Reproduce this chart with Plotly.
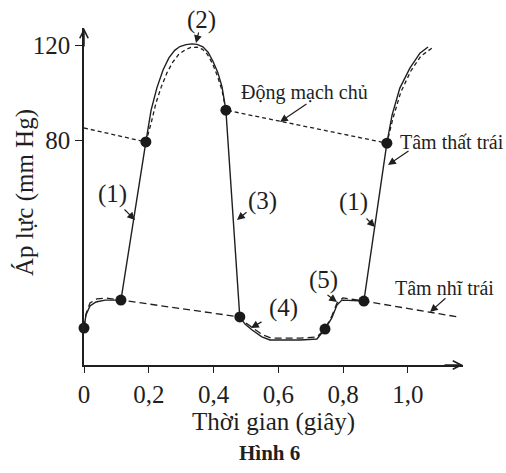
import plotly.graph_objects as go

# ---- data (time in s, pressure in mm Hg) ----
t_lv = [0.0, 0.006, 0.0185, 0.037, 0.065, 0.114, 0.191, 0.207, 0.225, 0.244, 0.262, 0.280, 0.296,
        0.315, 0.333, 0.349, 0.367, 0.383, 0.398, 0.413, 0.426, 0.438, 0.481, 0.497, 0.519, 0.549,
        0.574, 0.667, 0.719, 0.744, 0.765, 0.781, 0.796, 0.864, 0.935, 0.951, 0.975, 1.006, 1.037, 1.062]
p_lv = [0.8, 6.3, 10.1, 11.8, 12.6, 12.6, 79.2, 92.5, 102.0, 109.5, 114.6, 117.8, 119.4,
        120.2, 120.5, 120.3, 119.3, 117.0, 113.2, 108.5, 102.5, 92.6, 5.5, 2.5, 0.0, -2.9,
        -4.2, -4.2, -3.8, 0.4, 5.1, 10.5, 12.6, 12.2, 78.7, 90.5, 101.9, 110.3, 116.6, 119.2]

t_ao = [0.0, 0.191, 0.207, 0.222, 0.238, 0.256, 0.274, 0.292, 0.312, 0.330, 0.349, 0.366, 0.381,
        0.396, 0.411, 0.426, 0.438, 0.935, 0.954, 0.978, 1.009, 1.040, 1.074]
p_ao = [85.1, 79.2, 87.0, 95.5, 102.2, 108.3, 112.8, 116.0, 118.0, 119.0, 119.1, 118.2, 116.1,
        112.4, 107.3, 101.0, 92.6, 78.7, 89.3, 100.2, 109.1, 115.4, 118.7]

t_la = [0.0, 0.006, 0.0185, 0.040, 0.068, 0.114, 0.481, 0.500, 0.522, 0.552, 0.577, 0.667,
        0.719, 0.744, 0.765, 0.781, 0.799, 0.864, 1.154]
p_la = [0.8, 6.7, 11.4, 13.1, 13.5, 12.6, 5.5, 2.9, 0.8, -2.1, -3.4, -3.4,
        -2.9, 0.4, 5.9, 11.4, 13.5, 12.2, 5.5]

t_dots = [0.0, 0.114, 0.191, 0.438, 0.481, 0.744, 0.864, 0.935]
p_dots = [0.8, 12.6, 79.2, 92.6, 5.5, 0.4, 12.2, 78.7]

x_tick_vals = [0, 0.2, 0.4, 0.6, 0.8, 1.0]
x_tick_text = ["0", "0,2", "0,4", "0,6", "0,8", "1,0"]
y_tick_vals = [80, 120]
y_tick_text = ["80", "120"]

# ---- style ----
INK = "#1f1f1f"
FONT = "Liberation Serif"
W, H = 506, 473
L, R, T, B = 84, 43, 28, 108
PW, PH = W - L - R, H - T - B

def px(x):
    return (x - L) / PW

def py(y):
    return (H - B - y) / PH

fig = go.Figure()
fig.add_trace(go.Scatter(x=t_ao, y=p_ao, mode="lines",
                         line=dict(color=INK, width=1.3, dash="4px,3px"), cliponaxis=False))
fig.add_trace(go.Scatter(x=t_la, y=p_la, mode="lines",
                         line=dict(color=INK, width=1.3, dash="7px,4px"), cliponaxis=False))
fig.add_trace(go.Scatter(x=t_lv, y=p_lv, mode="lines",
                         line=dict(color=INK, width=1.4), cliponaxis=False))
fig.add_trace(go.Scatter(x=t_dots, y=p_dots, mode="markers",
                         marker=dict(color="#1a1a1a", size=11), cliponaxis=False))

ann = []
# axis arrowheads
ann.append(dict(xref="paper", yref="paper", x=1, y=0, ax=-20, ay=0, text="", showarrow=True,
                arrowhead=5, arrowsize=1.1, arrowwidth=1.5, arrowcolor=INK))
ann.append(dict(xref="paper", yref="paper", x=0, y=1, ax=0, ay=20, text="", showarrow=True,
                arrowhead=5, arrowsize=1.1, arrowwidth=1.5, arrowcolor=INK))

def label(text, cx, cy, size=25, bold=False):
    ann.append(dict(xref="paper", yref="paper", x=px(cx), y=py(cy), text=("<b>%s</b>" % text) if bold else text,
                    showarrow=False, xanchor="center", yanchor="middle",
                    font=dict(family=FONT, size=size, color=INK)))

def arrow(tail, tip):
    ann.append(dict(xref="paper", yref="paper", x=px(tip[0]), y=py(tip[1]),
                    ax=tail[0] - tip[0], ay=tail[1] - tip[1], text="", showarrow=True,
                    arrowhead=2, arrowsize=1.3, arrowwidth=1.2, arrowcolor=INK, standoff=0))

label("(2)", 201, 20)
arrow((199, 31), (196, 43))
label("(1)", 112, 194)
arrow((123, 208), (135, 220))
label("(3)", 262, 201)
arrow((248, 211), (237, 220))
label("(1)", 353, 202)
arrow((365, 217), (375, 227))
label("(4)", 283, 308)
arrow((263, 321), (251, 328))
label("(5)", 323, 280)
arrow((326, 294), (337, 302))
label("Động mạch chủ", 304, 92, size=20)
arrow((308, 103), (280, 122))
label("Tâm thất trái", 452, 142, size=20)
arrow((410, 150), (388, 165))
label("Tâm nhĩ trái", 444, 288, size=20)
arrow((447, 297), (430, 312))

# axis titles and caption
ann.append(dict(xref="paper", yref="paper", x=px(25), y=py(193), text="Áp lực (mm Hg)", textangle=-90,
                showarrow=False, xanchor="center", yanchor="middle",
                font=dict(family=FONT, size=25, color=INK)))
label("Thời gian (giây)", 273, 422)
label("Hình 6", 269, 453, size=21, bold=True)

fig.update_layout(
    width=W, height=H, margin=dict(l=L, r=R, t=T, b=B),
    paper_bgcolor="white", plot_bgcolor="white", showlegend=False,
    annotations=ann,
    xaxis=dict(range=[0, 1.17], showline=True, linecolor=INK, linewidth=1.5, showgrid=False,
               zeroline=False, ticks="outside", ticklen=6, tickwidth=1.3, tickcolor=INK,
               tickvals=x_tick_vals, ticktext=x_tick_text,
               tickfont=dict(family=FONT, size=25, color=INK)),
    yaxis=dict(range=[-14.74, 127.2], showline=True, linecolor=INK, linewidth=1.5, showgrid=False,
               zeroline=False, ticks="outside", ticklen=7, tickwidth=1.3, tickcolor=INK,
               tickvals=y_tick_vals, ticktext=y_tick_text,
               tickfont=dict(family=FONT, size=25, color=INK)),
)

fig.write_html("out.html")
